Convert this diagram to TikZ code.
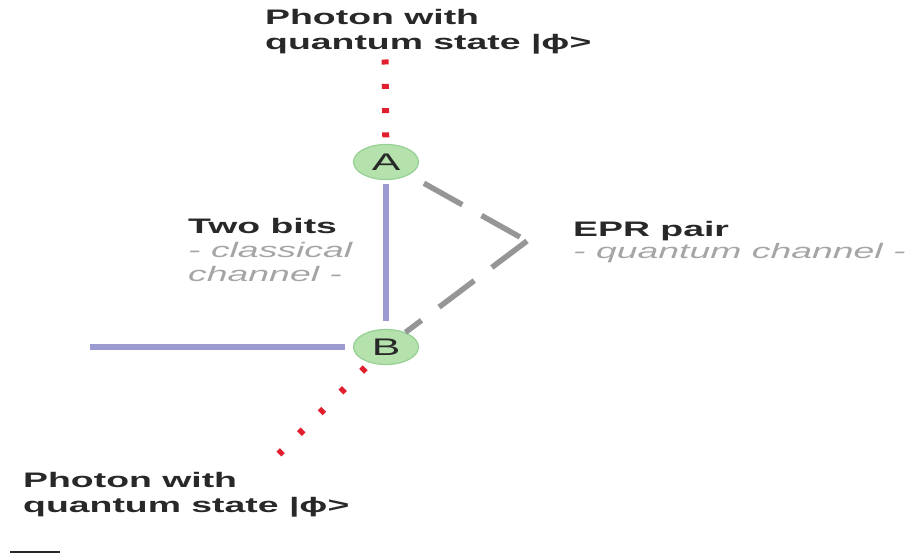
\documentclass[tikz,border=0pt]{standalone}
\usepackage{fontspec}
\usetikzlibrary{shapes.geometric}
\newfontfamily\labelfont{Liberation Sans}[FakeStretch=1.78]
\definecolor{txtdark}{RGB}{40,40,40}
\definecolor{txtgray}{RGB}{165,165,165}
\definecolor{classicline}{RGB}{155,155,210}
\definecolor{quantumline}{RGB}{150,150,150}
\definecolor{photonred}{RGB}{225,30,45}
\definecolor{qfill}{RGB}{180,225,172}
\definecolor{qedge}{RGB}{150,208,148}
\newcommand{\subline}{\mdseries\itshape\color{txtgray}}
\begin{document}
\begin{tikzpicture}[x=1pt,y=-1pt,
  every node/.style={inner sep=0pt,text=txtdark},
  lbl/.style={align=left,anchor=base west,font={\labelfont\bfseries\fontsize{21}{25}\selectfont}},
  qnode/.style={ellipse,draw=qedge,line width=1.2pt,fill=qfill,minimum width=65pt,minimum height=35pt,font={\labelfont\fontsize{24}{24}\selectfont}},
  classic/.style={line width=6pt,draw=classicline},
  quantum/.style={line width=5.5pt,draw=quantumline,dash pattern=on 44pt off 22pt},
  photon/.style={line width=7pt,draw=photonred,dash pattern=on 5pt off 19.3pt}]
  \useasboundingbox (0,0) rectangle (915,559);
  % labels (base = last line)
  \node[lbl] (topPhoton) at (265,50) {Photon with\\quantum state |ϕ>};
  \node[lbl] (botPhoton) at (23,512) {Photon with\\quantum state |ϕ>};
  \node[lbl,font={\labelfont\bfseries\fontsize{21}{24}\selectfont}] (twoBits) at (188,281) {Two bits\\{\subline - classical}\\{\subline channel -}};
  \node[lbl,font={\labelfont\bfseries\fontsize{21}{22}\selectfont}] (epr) at (573,258) {EPR pair\\{\subline - quantum channel -}};
  % stations
  \node[qnode] (A) at (386,162) {A};
  \node[qnode] (B) at (386,347) {B};
  \coordinate (Atop) at (385,59.5);
  \coordinate (Bout) at (279,454);
  \coordinate (Bleft) at (90,347);
  \coordinate (V) at (527,241);
  % channels
  \draw[classic,shorten <=4pt,shorten >=8pt] (A) -- (B);
  \draw[classic,shorten >=8pt] (Bleft) -- (B);
  \draw[quantum,shorten <=17pt] (A) -- (V);
  \draw[quantum] (V) -- (B);
  \draw[photon] (Atop) -- (A);
  \draw[photon,dash pattern=on 5pt off 24.3pt,shorten <=7pt] (B) -- (Bout);
  \draw[line width=2.5pt,txtdark] (10,552) -- (60,552);
\end{tikzpicture}
\end{document}
